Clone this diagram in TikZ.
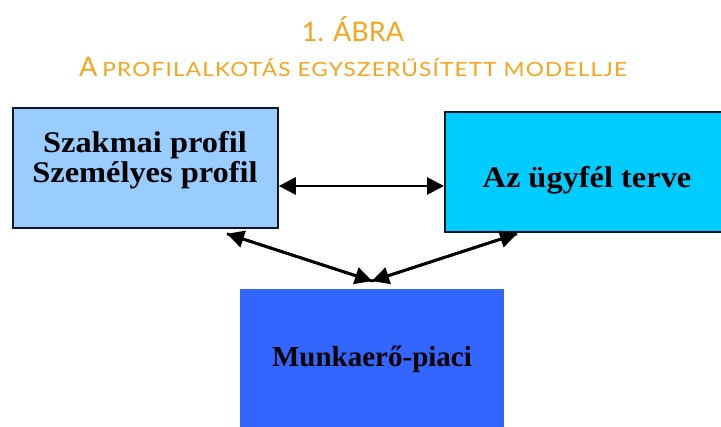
\documentclass[tikz,border=0pt]{standalone}
\usepackage{fontspec}
\usetikzlibrary{arrows.meta}
\newfontfamily\titlefont{Lato}
\newfontfamily\capsfont[FakeStretch=1.16,LetterSpace=6]{Lato}
\newfontfamily\boxfont[FakeStretch=1.08]{Liberation Serif}
\newfontfamily\plainboxfont{Liberation Serif}
\definecolor{titleorange}{HTML}{F7A31C}
\definecolor{paleblue}{HTML}{99CCFF}
\definecolor{skyblue}{HTML}{00CCFF}
\definecolor{royalblue}{HTML}{3366FF}
\definecolor{edge}{HTML}{141428}
\newcommand{\smallcapsline}[1]{{\capsfont\fontsize{19.5}{19.5}\selectfont #1}}
\begin{document}
\begin{tikzpicture}[x=1pt,y=-1pt,
  box/.style={draw=edge,line width=1.8pt,inner sep=0pt,anchor=north west},
  boxtext/.style={font=\boxfont\bfseries\fontsize{30}{30}\selectfont,align=center,anchor=base,inner sep=0pt},
  dbl/.style={line width=2.8pt,{Triangle[length=17pt,width=17pt]}-{Triangle[length=17pt,width=17pt]}},
  tip/.style={line width=2.8pt,-{Triangle[length=17pt,width=17pt]}},
  heading/.style={text=titleorange,anchor=base,inner sep=0pt}]
\useasboundingbox (0,0) rectangle (721,427);
\clip (0,0) rectangle (721,427);

% heading
\node[heading,font=\titlefont\fontsize{27}{27}\selectfont] (t1) at (353,42) {1. ÁBRA};
\node[heading,font=\titlefont\fontsize{27}{27}\selectfont] (t2) at (353,77)
  {A\hspace{5pt}\smallcapsline{PROFILALKOTÁS EGYSZERŰSÍTETT MODELLJE}};

% boxes
\node[box,fill=paleblue,minimum width=265pt,minimum height=120pt] (prof) at (12,107) {};
\node[box,fill=skyblue,minimum width=290pt,minimum height=120pt] (plan) at (444,111) {};
\node[box,draw=none,fill=royalblue,minimum width=264pt,minimum height=150pt] (market) at (239,288) {};

\node[boxtext] (proftext) at (145,183) {\baselineskip=30pt Szakmai profil\\Személyes profil};
\node[boxtext] (plantext) at (587,188) {Az ügyfél terve};
\node[boxtext,font=\plainboxfont\bfseries\fontsize{29}{29}\selectfont] (markettext) at (372,367) {Munkaerő-piaci};

% connectors
\coordinate (meet) at (372,281);
\draw[dbl] (prof.east |- 0,186) -- (plan.west |- 0,186);
\draw[tip] (meet) -- ([shift={(215,5)}]prof.south west);
\draw[tip] (meet) -- ([shift={(73,1)}]plan.south west);
\draw[tip] ([shift={(215,5)}]prof.south west) -- (meet);
\draw[tip] ([shift={(73,1)}]plan.south west) -- (meet);
\end{tikzpicture}
\end{document}
